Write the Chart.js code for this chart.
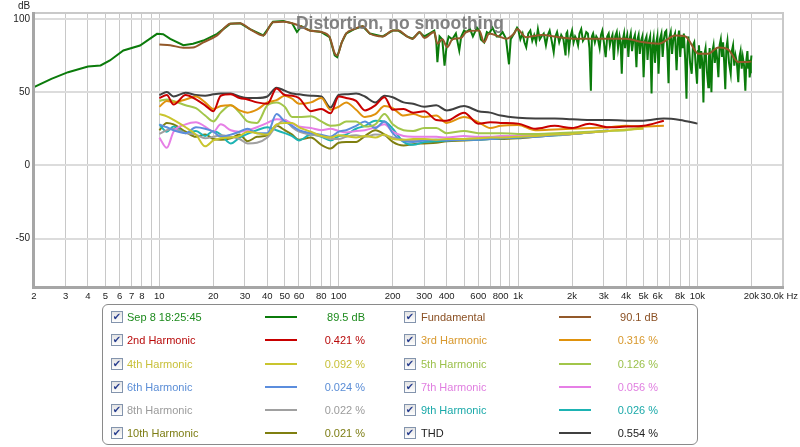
<!DOCTYPE html>
<html>
<head>
<meta charset="utf-8">
<title>Distortion, no smoothing</title>
<script src="https://cdn.jsdelivr.net/npm/chart.js@4.4.1/dist/chart.umd.min.js"></script>
<style>
  body { margin: 0; background: #fff; }
  #wrap { position: relative; width: 800px; height: 447px; }
  #legend {
    position: absolute; left: 102px; top: 304px; width: 596px; height: 141px;
    border: 1px solid #8a8a8a; border-radius: 6px; box-sizing: border-box;
    font: 11px "Liberation Sans", Arial, sans-serif;
  }
  #legend .box {
    position: absolute; width: 10px; height: 10px; border: 1px solid #8394ad;
    background: linear-gradient(#e4e4e4, #fdfdfd); color: #2a3f8f;
    font: bold 10px "DejaVu Sans", sans-serif; line-height: 10px; text-align: center;
  }
  #legend .txt { position: absolute; height: 14px; line-height: 14px; white-space: nowrap; }
  #legend .val { position: absolute; width: 90px; height: 14px; line-height: 14px; text-align: right; }
  #legend .ln { position: absolute; width: 32px; height: 2px; }
</style>
</head>
<body>
<div id="wrap">
  <canvas id="distortionChart"></canvas>
  <div id="legend"></div>
</div>
<script>
// Chart data
const titleText = 'Distortion, no smoothing';

const xGridHz = [2, 3, 4, 5, 6, 7, 8, 9, 10, 20, 30, 40, 50, 60, 70, 80, 90,
  100, 200, 300, 400, 500, 600, 700, 800, 900, 1000, 2000, 3000, 4000, 5000,
  6000, 7000, 8000, 9000, 10000, 20000, 30000];
const xUnlabeledHz = [9, 70, 90, 500, 700, 900, 7000, 9000, 30000];
const yTickDb = [-50, 0, 50, 100];

// measurement (green), 2 Hz .. 1 kHz
const measLoHz = [2, 2.5, 3.1, 4, 4.7, 5.3, 6.3, 7.8, 9.7, 10.5,
  11.5, 13.6, 15.4, 17.6, 21, 24.8, 28.2, 32, 38, 43,
  49, 55, 58.5, 62, 69, 80, 89, 95, 98, 104,
  110, 122, 136, 149, 176, 200, 215, 240, 258, 282,
  300, 320, 341, 350, 355, 365, 378, 389, 400, 410,
  430, 450, 470, 482, 500, 514, 540, 560, 590, 607,
  620, 647, 670, 690, 720, 760, 784, 820, 857, 890,
  910, 950, 987];
const measLoDb = [53.4, 59, 63.6, 67.5, 68.2, 71.6, 78.4, 81.8, 89.8, 89.5,
  86.4, 82, 83, 85.2, 89.8, 96.6, 97, 93, 88.7, 98,
  98.5, 97, 91, 95, 92, 91, 87.5, 75, 73.9, 84,
  90, 93, 95, 90, 88, 92, 92, 88, 86.4, 91,
  88, 90, 92, 84, 70.5, 88, 86, 68, 82, 88,
  86, 90, 78.4, 88, 92, 91, 93, 88, 94, 92,
  86, 84, 91, 90, 94, 88, 88, 91, 86.4, 69,
  86, 90, 94];

// measurement (green), 1 kHz .. 20 kHz
const measHiHz = [1000, 1030, 1060, 1085, 1110, 1140, 1170, 1200, 1230, 1260,
  1290, 1320, 1350, 1390, 1430, 1465, 1500, 1540, 1580, 1615,
  1650, 1695, 1740, 1790, 1840, 1860, 1880, 1920, 1960, 2000,
  2040, 2080, 2120, 2160, 2200, 2250, 2300, 2350, 2400, 2450,
  2500, 2546, 2580, 2620, 2680, 2730, 2790, 2850, 2900, 2950,
  3010, 3080, 3140, 3200, 3250, 3300, 3360, 3420, 3480, 3550,
  3610, 3680, 3730, 3785, 3840, 3900, 3950, 4000, 4060, 4120,
  4180, 4250, 4320, 4400, 4480, 4570, 4630, 4700, 4770, 4850,
  4930, 5010, 5100, 5200, 5270, 5350, 5450, 5550, 5620, 5700,
  5800, 5900, 5980, 6070, 6180, 6300, 6400, 6500, 6600, 6700,
  6800, 6900, 7000, 7100, 7220, 7350, 7500, 7650, 7780, 7900,
  8020, 8150, 8270, 8400, 8550, 8690, 8800, 8900, 9100, 9290,
  9450, 9600, 9780, 9950, 10080, 10200, 10350, 10500, 10650, 10800,
  10950, 11100, 11300, 11500, 11600, 11700, 11830, 11970, 12130, 12300,
  12500, 12700, 12900, 13090, 13300, 13500, 13700, 13900, 14100, 14300,
  14500, 14700, 15000, 15330, 15550, 15800, 16050, 16300, 16600, 16900,
  17150, 17400, 17650, 17900, 18200, 18500, 18750, 19000, 19200, 19400,
  19550, 19700, 19850, 20000];
const measHiDb = [93, 86, 90, 84, 80.7, 90, 92, 85, 89, 84,
  93, 86, 88, 90, 82, 89, 92, 85, 77.3, 88,
  91, 84, 89, 86, 75, 90, 91, 79, 88, 92,
  84, 88, 86, 82, 90, 93, 85, 87, 91, 90,
  80, 51, 88, 90, 84, 88, 86, 80, 89, 92,
  84, 73.9, 88, 90, 82, 86, 89, 72, 88, 91,
  80, 88, 84, 62.5, 86, 90, 80, 86, 89, 74,
  86, 90, 78, 86, 89, 67, 86, 89, 76, 85,
  88, 60.2, 85, 88, 72, 84, 88, 49, 82, 87,
  70, 84, 88, 62.5, 86, 90, 74, 86, 91, 92,
  78, 56, 88, 91, 76, 87, 90, 65, 86, 92,
  74, 88, 80, 90, 72, 45.5, 82, 88, 70, 62.5,
  82, 84, 68, 55.7, 78, 82, 66, 78, 70, 43,
  76, 80, 64, 53.4, 74, 80, 66, 50, 78, 82,
  70, 80, 72, 60.2, 82, 86, 74, 84, 70, 52,
  80, 85, 70, 62.5, 78, 82, 68, 75, 70, 56.8,
  74, 78, 66, 74, 68, 51, 72, 78, 66, 72,
  60, 63.6, 70, 75];

// fundamental (brown), 10 Hz .. 20 kHz
const fundHz = [10, 11.5, 13.6, 15.4, 17.6, 21, 24.8, 28.2, 32, 38, 43, 49, 55, 60, 69, 80,
  89, 95, 98, 104, 110, 122, 136, 149, 176, 200, 215, 240, 258, 282, 300, 341, 355, 378,
  403, 430, 482, 514, 607, 647, 690, 784, 857, 950, 987, 1107, 1358, 1690, 2100, 2576,
  3204, 3981, 4887, 6070, 7550, 8580, 10140, 11500, 13090, 14870, 16900, 19200, 20000];
const fundDb = [82.5, 82, 80.3, 80.5, 84, 88.7, 96.6, 97, 93, 88.7, 97.7, 98, 97, 95.5, 92, 91,
  87.5, 76.5, 75, 84, 90, 93, 95, 90, 88, 92, 92, 88, 86.4, 91, 87, 91, 83, 86,
  80.7, 86, 87, 91, 92, 84, 90, 88, 86.4, 90, 93, 87.5, 89, 87.5, 86.4, 86.4,
  86.4, 86.4, 84.2, 83, 88.7, 88, 76.2, 76.2, 80.5, 79, 70.5, 70.5, 71];

// harmonics and THD share one frequency grid
const hzGrid = [10, 11, 12, 14, 16, 18, 20, 22, 25, 28, 31, 35, 40, 45, 50, 55, 60, 70, 80, 90,
  100, 110, 125, 140, 160, 180, 200, 230, 260, 300, 350, 400, 500, 600, 700, 800, 1000,
  1250, 1600, 2000, 2500, 3200, 4000, 5000, 6500, 8000, 10000];
const h2Db = [46, 48, 41.5, 48, 45, 41, 37, 47.5, 48.5, 46, 45, 43, 42, 52.5, 48, 47.5, 46, 37, 38.5, 35.5,
  47, 46, 44, 37.5, 41, 46.5, 38, 38.5, 36, 37, 31, 30.5, 36, 28.5, 29.5, 29, 28.5,
  25, 27, 25.5, 28.5, 26, 26.5, 27, 30.5, null, null];
const h3Db = [40, 44, 43, 45, 47, 43, 38.5, 40.5, 41, 37.5, 36, 38, 43, 44.5, 47.5, 45.5, 42, 43, 46, 38,
  40, 43, 38, 33, 35, 40.5, 39, 34, 35, 33, 34, 29, 33, 29.5, 25.5, 27, 27.5,
  24, 24.5, 25, 25.5, 26, 27, 26.5, 27, null, null];
const h4Db = [35, 33.5, 31, 26, 21, 13, 17, 18.5, 19, 20, 23, 22, 21, 28, 29, 29, 26, 23, 20, 19,
  20.5, 20, 19, 20, 19, 21, 18, 17.5, 18, 18, 17.5, 18, 18, 18.5, 19, 19, 19.5,
  20, 21, 21.5, 22.5, 23.5, 24.5, 25, null, null, null];
const h5Db = [44, 45, 44, 41, 39, 34, 30, 36, 41, 36, 30, 29, 41, 43, 40, 33, 33, 33.5, 30, 27,
  27.5, 30, 30, 26.5, 28, 35, 28, 24, 23.5, 25.5, 25.5, 22, 23.5, 22, 22, 22, 21.5,
  21.5, 22, 22.5, 23, 23.5, 24, 26, null, null, null];
const h6Db = [28, 26, 24, 22, 26, 25, 23, 19.5, 21, 23, 25, 22, 22, 35, 30, 27, 24, 22, 21, 19.5,
  23, 24, 27, 30, 25.5, 30, 22, 16.5, 16, 17, 17.5, 17, 17.5, 17.5, 18, 18.5, 19,
  19.5, 20.5, 21.5, 22.5, 24, null, null, null, null, null];
const h7Db = [19, 12, 23, 28, 29.5, 26.5, 23, 28, 24, 23, 24, 26, 29, 31.5, 31, 28.5, 26.5, 25.5, 24, 25,
  23.5, 22.5, 23.5, 24, 26, 28, 23, 20, 19.5, 19.5, 19.5, 19, 20, 19.5, 19.5, 20, 20,
  20.5, 21, 21.5, 22.5, 23.5, null, null, null, null, null];
const h8Db = [21.5, 24, 25, 22, 21, 18.5, 19.5, 20.5, 19.5, 18, 15, 15.5, 19, 27, 31, 26, 23, 21, 20, 18,
  18, 19.5, 20.5, 19.5, 21, 20.5, 19, 17.5, 17, 17.5, 17.5, 17.5, 18, 18.5, 19, 19, 19.5,
  20, 21, 21.5, 22.5, null, null, null, null, null, null];
const h9Db = [28, 23, 26.5, 22, 23.5, 20, 23.5, 21, 15, 19, 21.5, 24, 26, 24, 22, 20, 17, 21, 19.5, 17,
  20, 21, 25, 27, 30.5, 30, 25, 16, 14, 16, 16.5, 17, 17.5, 17.5, 18, 18.5, 19,
  21, 20.5, 21.5, 22.5, 23.5, null, null, null, null, null];
const h10Db = [24, 29, 28, 23, 19.5, 21, 18, 17.5, 18.5, 21, 16.5, 19.5, 20.5, 27, 24, 21, 17.5, 19, 14, 11.5,
  15.5, 16, 16, 20, 24, 21, 16, 13.5, 14.5, 15, 15.5, 16.5, 17, 17.5, 18, 18, 18.5,
  19.5, 20.5, 21.5, 22.5, null, null, null, null, null, null];
const thdDb = [48, 50, 47, 49.5, 48, 47.5, 48.5, 49, 49, 47, 46, 46, 47, 53, 51, 49, 48.5, 47.5, 47, 39.5,
  48, 48.5, 49, 47, 43, 47.5, 46.5, 43, 42, 40, 41, 37.5, 40.5, 37, 36, 34, 32.5,
  32, 32, 31.5, 31, 31, 30.5, 30.5, 32, 31, 28.5];

// legend order: left column, right column, row by row
const seriesNames = ['Sep 8 18:25:45', 'Fundamental', '2nd Harmonic', '3rd Harmonic',
  '4th Harmonic', '5th Harmonic', '6th Harmonic', '7th Harmonic', '8th Harmonic',
  '9th Harmonic', '10th Harmonic', 'THD'];
const seriesValues = ['89.5 dB', '90.1 dB', '0.421 %', '0.316 %', '0.092 %', '0.126 %',
  '0.024 %', '0.056 %', '0.022 %', '0.026 %', '0.021 %', '0.554 %'];
const seriesColors = ['#0b7b0b', '#93592a', '#c80000', '#e0920c', '#c9c52e', '#a2c64a',
  '#5b8ddd', '#e67fe6', '#a0a0a0', '#1db3b3', '#7f7f10', '#404040'];
const textColors = ['#1d8a1d', '#8a4f22', '#b80a0a', '#d8982c', '#c8c03a', '#9cc14c',
  '#5a8dd6', '#e07ee0', '#9b9b9b', '#1aa9a9', '#7d7d14', '#222222'];
const drawOrder = [21, 20, 2, 3, 4, 5, 6, 7, 8, 9, 10, 11];

const FONT = '"Liberation Sans", Arial, sans-serif';

function pts(hz, db) {
  return hz.map((f, i) => ({ x: f, y: db[i] }));
}

function tickText(v) {
  if (xUnlabeledHz.includes(v)) return '';
  return v >= 1000 ? (v / 1000) + 'k' : String(v);
}

const seriesData = [
  pts(measLoHz.concat(measHiHz), measLoDb.concat(measHiDb)), pts(fundHz, fundDb),
  pts(hzGrid, h2Db), pts(hzGrid, h3Db), pts(hzGrid, h4Db), pts(hzGrid, h5Db),
  pts(hzGrid, h6Db), pts(hzGrid, h7Db), pts(hzGrid, h8Db), pts(hzGrid, h9Db),
  pts(hzGrid, h10Db), pts(hzGrid, thdDb)
];

// title, axis unit labels and plot frame
const overlay = {
  id: 'overlay',
  afterDraw(chart) {
    const { ctx, chartArea: a } = chart;
    ctx.save();
    ctx.strokeStyle = '#c9c9c9';
    ctx.lineWidth = 2;
    ctx.strokeRect(a.left, a.top, a.right - a.left, a.bottom - a.top);
    ctx.strokeStyle = '#a6a6a6';
    ctx.lineWidth = 3;
    ctx.beginPath();
    ctx.moveTo(a.left - 0.5, a.top - 1);
    ctx.lineTo(a.left - 0.5, a.bottom + 0.5);
    ctx.lineTo(a.right + 1, a.bottom + 0.5);
    ctx.stroke();

    ctx.font = 'bold 17.5px ' + FONT;
    ctx.fillStyle = 'rgba(118,118,118,0.92)';
    ctx.textAlign = 'center';
    ctx.textBaseline = 'alphabetic';
    ctx.fillText(titleText, chart.width / 2, 29);

    ctx.font = '10px ' + FONT;
    ctx.fillStyle = '#222';
    ctx.textAlign = 'left';
    ctx.fillText('dB', a.left - 16, 9);

    ctx.font = '9.5px ' + FONT;
    ctx.textAlign = 'right';
    ctx.textBaseline = 'middle';
    ctx.fillText('30.0k Hz', chart.width - 2, a.bottom + 9.5);
    ctx.restore();
  }
};

function initChart() {
  const ctx = document.getElementById('distortionChart');
  const datasets = seriesData.map((d, i) => ({
    label: seriesNames[i],
    data: d,
    borderColor: seriesColors[i],
    borderWidth: 2,
    pointRadius: 0,
    tension: i === 0 ? 0 : 0.4,
    cubicInterpolationMode: i === 0 ? 'default' : 'monotone',
    spanGaps: false,
    order: drawOrder[i]
  }));

  new Chart(ctx, {
    type: 'line',
    data: { datasets },
    options: {
      responsive: true,
      maintainAspectRatio: false,
      animation: false,
      layout: { padding: { left: 0, right: 17, top: 13, bottom: 140 } },
      plugins: { legend: { display: false }, tooltip: { enabled: false } },
      scales: {
        x: {
          type: 'logarithmic',
          min: 2,
          max: 30000,
          afterBuildTicks: s => { s.ticks = xGridHz.map(v => ({ value: v })); },
          afterFit: s => { s.height = 20; },
          grid: { color: '#c8c8c8', lineWidth: 1, drawTicks: false },
          border: { display: false },
          ticks: {
            autoSkip: false, maxRotation: 0, padding: 4, color: '#222',
            font: { family: FONT, size: 9.5 },
            callback: v => tickText(v)
          }
        },
        y: {
          min: -83,
          max: 104,
          afterBuildTicks: s => { s.ticks = yTickDb.map(v => ({ value: v })); },
          afterFit: s => { s.width = 34; },
          grid: { color: '#dcdcdc', lineWidth: 2, drawTicks: false },
          border: { display: false },
          ticks: { padding: 4, color: '#222', font: { family: FONT, size: 10 } }
        }
      }
    },
    plugins: [overlay]
  });
}

function buildLegend() {
  const box = document.getElementById('legend');
  const colX = [{ cb: 8, txt: 24, ln: 162, val: 172 }, { cb: 301, txt: 318, ln: 456, val: 465 }];
  seriesNames.forEach((name, i) => {
    const c = colX[i % 2];
    const mid = 12.3 + Math.floor(i / 2) * 23.1;
    box.insertAdjacentHTML('beforeend',
      `<span class="box" style="left:${c.cb}px;top:${mid - 6}px">&#10004;</span>` +
      `<span class="txt" style="left:${c.txt}px;top:${mid - 7}px;color:${textColors[i]}">${name}</span>` +
      `<span class="ln" style="left:${c.ln}px;top:${mid - 1}px;background:${seriesColors[i]}"></span>` +
      `<span class="val" style="left:${c.val}px;top:${mid - 7}px;color:${textColors[i]}">${seriesValues[i]}</span>`);
  });
}

document.addEventListener('DOMContentLoaded', function() {
  initChart();
  buildLegend();
});
</script>
</body>
</html>
